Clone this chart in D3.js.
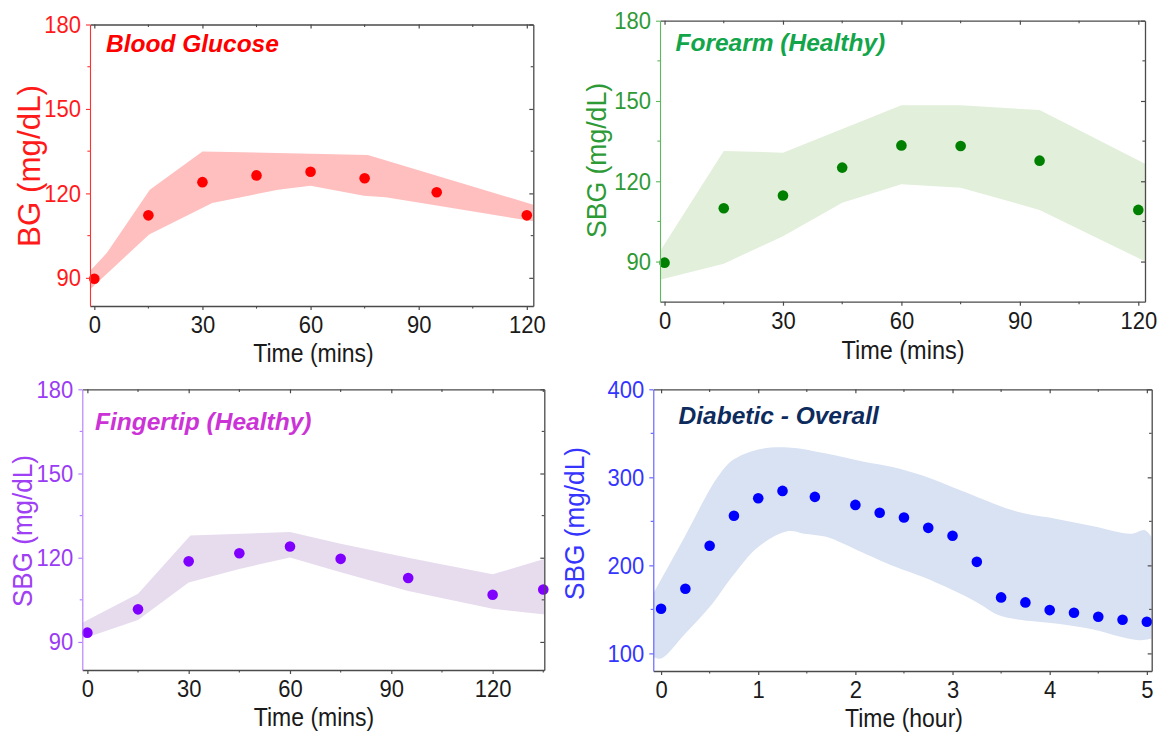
<!DOCTYPE html>
<html>
<head>
<meta charset="utf-8">
<script src="https://cdn.jsdelivr.net/npm/d3@7"></script>
<style>
  html, body { margin: 0; padding: 0; background: #fff; }
  svg { display: block; font-family: "Liberation Sans", Arial, sans-serif; }
</style>
</head>
<body>
<svg id="chart" width="1157" height="734"></svg>
<script>
// ---- Data ---------------------------------------------------------------
// Sampling times (minutes) for the healthy-subject panels
const minutes = [0, 15, 30, 45, 60, 75, 95, 120];
const fingertipMinutes = [0, 15, 30, 45, 60, 75, 95, 120, 135];
// Sampling times (hours) for the diabetic panel
const diabeticHours = [0, 0.25, 0.5, 0.75, 1, 1.25, 1.583, 2, 2.25, 2.5, 2.75, 3, 3.25, 3.5, 3.75, 4, 4.25, 4.5, 4.75, 5];

// Mean values (mg/dL)
const bloodGlucose = [89.7, 112.2, 124.0, 126.4, 127.7, 125.4, 120.4, 112.2];
const forearmSBG = [89.6, 109.9, 114.7, 125.1, 133.4, 133.2, 127.7, 109.3];
const fingertipSBG = [93.3, 101.6, 118.7, 121.6, 124.0, 119.6, 112.8, 106.8, 108.7];
const diabeticSBG = [150.7, 173.4, 222.2, 256.3, 276.3, 284.6, 277.8, 268.7, 259.7, 254.4, 242.6, 233.6, 204.0, 163.6, 157.9, 149.2, 146.2, 141.6, 138.2, 135.9];

// Spread bands: upper and lower edges with their own time stamps
const bgUpperTime = [-1.2, 3.5, 15.4, 30, 60, 75.9, 121.8];
const bgUpper = [92.4, 98.9, 121.3, 134.9, 134.1, 133.6, 116.0];
const bgLowerTime = [-1.2, 15.2, 32.7, 51, 60, 74.8, 80.8, 95, 121.8];
const bgLower = [85.9, 105.4, 116.6, 121.3, 122.7, 119.2, 118.6, 115.7, 110.1];

const forearmUpperTime = [-1.2, 15, 30, 60, 75, 95, 121.8];
const forearmUpper = [93.7, 131.3, 130.7, 148.4, 148.4, 146.6, 126.5];
const forearmLowerTime = [-1.2, 15, 30, 45, 60, 75, 95, 121.8];
const forearmLower = [83.2, 89.2, 99.5, 112.0, 118.9, 117.6, 109.3, 90.0];

const fingertipUpperTime = [-1.5, 15, 30.5, 60, 75, 95, 120, 135.5];
const fingertipUpper = [96.8, 107.2, 127.9, 129.2, 125.0, 120.0, 114.1, 119.6];
const fingertipLowerTime = [-1.5, 15, 30, 45, 60, 75, 95, 120, 135.5];
const fingertipLower = [91.0, 97.8, 111.2, 116.0, 120.1, 114.8, 108.1, 101.8, 99.8];

const diabeticUpperTime = [-0.08, 0.25, 0.5, 0.6, 0.73, 1.0, 1.31, 1.7, 2.1, 2.37, 2.69, 3.08, 3.67, 4.06, 4.45, 4.84, 4.98, 5.05];
const diabeticUpper = [168, 234, 286, 303, 319, 331.6, 333.8, 327, 317.5, 312, 302, 285.4, 260.8, 253, 244.5, 236, 240, 232];
const diabeticLowerTime = [-0.08, 0.0, 0.25, 0.53, 0.73, 1.0, 1.31, 1.47, 1.7, 2.02, 2.41, 2.69, 3.0, 3.27, 3.47, 3.67, 4.06, 4.45, 4.73, 4.92, 5.05];
const diabeticLower = [96, 94.3, 122.7, 156.8, 187, 221, 238.9, 236, 232.4, 217.3, 198.4, 187, 171.9, 156.8, 143.5, 138.6, 134, 127.2, 118.9, 115, 117];

// Tick values
const yTicksHealthy = [90, 120, 150, 180];
const yMinorHealthy = [105, 135, 165];
const yTicksDiabetic = [100, 200, 300, 400];
const yMinorDiabetic = [150, 250, 350];
const xTicksMinutes = [0, 30, 60, 90, 120];
const xMinorMinutes = [15, 45, 75, 105];
const xMinorFingertip = [15, 45, 75, 105, 135];
const xTicksHours = [0, 1, 2, 3, 4, 5];
const xMinorHours = [0.5, 1.5, 2.5, 3.5, 4.5];

// ---- Drawing ------------------------------------------------------------
const svg = d3.select("#chart");
const frameColor = "#4a4a4a";
const textStretch = "scale(1,1.1)";

function drawPanel(cfg) {
  const w = cfg.box.right - cfg.box.left;
  const h = cfg.box.bottom - cfg.box.top;
  const x = d3.scaleLinear().domain(cfg.xDomain).range([0, w]);
  const y = d3.scaleLinear().domain(cfg.yDomain).range([h, 0]);

  const g = svg.append("g").attr("transform", `translate(${cfg.box.left},${cfg.box.top})`);

  const clipId = "clip-" + cfg.id;
  g.append("clipPath").attr("id", clipId)
    .append("rect").attr("width", w).attr("height", h);

  // Shaded spread band
  const line = d3.line().x(d => x(d[0])).y(d => y(d[1])).curve(cfg.curve || d3.curveLinear);
  const upperPts = cfg.upperTime.map((t, i) => [t, cfg.upper[i]]);
  const lowerPts = cfg.lowerTime.map((t, i) => [t, cfg.lower[i]]).reverse();
  const bandPath = line(upperPts) + line(lowerPts).replace(/^M/, "L") + "Z";
  g.append("path")
    .attr("clip-path", `url(#${clipId})`)
    .attr("d", bandPath)
    .attr("fill", cfg.bandColor);

  // Mean points
  g.append("g").selectAll("circle")
    .data(cfg.times.map((t, i) => [t, cfg.values[i]]))
    .join("circle")
    .attr("cx", d => x(d[0]))
    .attr("cy", d => y(d[1]))
    .attr("r", 5.3)
    .attr("fill", cfg.dotColor);

  // Frame: top and right (inward ticks, no labels)
  const top = g.append("g").call(d3.axisTop(x).tickValues(cfg.xTicks).tickSize(-4).tickSizeOuter(0).tickFormat(""));
  const right = g.append("g").attr("transform", `translate(${w},0)`)
    .call(d3.axisRight(y).tickValues(cfg.yTicks).tickSize(-4).tickSizeOuter(0).tickFormat(""));
  [top, right].forEach(a => {
    a.select(".domain").attr("stroke", frameColor).attr("stroke-width", 1.3);
    a.selectAll(".tick line").attr("stroke", frameColor).attr("stroke-width", 1.2);
  });

  // Bottom axis
  const bottom = g.append("g").attr("transform", `translate(0,${h})`)
    .call(d3.axisBottom(x).tickValues(cfg.xTicks).tickSize(4).tickSizeOuter(0).tickPadding(5).tickFormat(d3.format("d")));
  bottom.select(".domain").attr("stroke", frameColor).attr("stroke-width", 1.3);
  bottom.selectAll(".tick line").attr("stroke", frameColor).attr("stroke-width", 1.2);
  bottom.selectAll(".tick text")
    .attr("fill", "#1a1a1a").attr("font-size", 22)
    .attr("font-family", "Liberation Sans, Arial, sans-serif")
    .attr("transform", textStretch);

  // Left axis, coloured
  const left = g.append("g")
    .call(d3.axisLeft(y).tickValues(cfg.yTicks).tickSize(4).tickSizeOuter(0).tickPadding(5).tickFormat(d3.format("d")));
  left.select(".domain").attr("stroke", cfg.axisColor).attr("stroke-width", 1.1);
  left.selectAll(".tick line").attr("stroke", cfg.axisColor).attr("stroke-width", 1.1);
  left.selectAll(".tick text")
    .attr("fill", cfg.labelColor).attr("font-size", 22)
    .attr("font-family", "Liberation Sans, Arial, sans-serif")
    .attr("transform", textStretch);

  // Minor ticks
  const minor = g.append("g");
  cfg.xMinor.forEach(v => {
    minor.append("line").attr("x1", x(v)).attr("x2", x(v)).attr("y1", h).attr("y2", h + 2.6)
      .attr("stroke", frameColor).attr("stroke-width", 1.1);
    minor.append("line").attr("x1", x(v)).attr("x2", x(v)).attr("y1", 0).attr("y2", 2.6)
      .attr("stroke", frameColor).attr("stroke-width", 1.1);
  });
  cfg.yMinor.forEach(v => {
    minor.append("line").attr("x1", 0).attr("x2", -2.6).attr("y1", y(v)).attr("y2", y(v))
      .attr("stroke", cfg.axisColor).attr("stroke-width", 1.1);
    minor.append("line").attr("x1", w).attr("x2", w - 2.6).attr("y1", y(v)).attr("y2", y(v))
      .attr("stroke", frameColor).attr("stroke-width", 1.1);
  });

  // Panel title
  svg.append("text")
    .attr("x", cfg.title.x).attr("y", cfg.title.y)
    .attr("font-size", 24.5).attr("font-weight", "bold").attr("font-style", "italic")
    .attr("fill", cfg.title.color)
    .text(cfg.title.text);

  // X axis title
  svg.append("text")
    .attr("transform", `translate(${cfg.xLabel.x},${cfg.xLabel.y}) ${textStretch}`)
    .attr("text-anchor", "middle")
    .attr("font-size", cfg.xLabel.size)
    .attr("fill", "#1a1a1a")
    .text(cfg.xLabel.text);

  // Y axis title
  svg.append("text")
    .attr("transform", `translate(${cfg.yLabel.x},${cfg.yLabel.y}) rotate(-90)`)
    .attr("text-anchor", "middle")
    .attr("font-size", cfg.yLabel.size)
    .attr("textLength", cfg.yLabel.length)
    .attr("lengthAdjust", "spacingAndGlyphs")
    .attr("fill", cfg.yLabel.color)
    .text(cfg.yLabel.text);
}

drawPanel({
  id: "bg",
  box: { left: 90, right: 533.3, top: 24.5, bottom: 306 },
  xDomain: [-1.2, 121.8], yDomain: [80, 180],
  xTicks: xTicksMinutes, xMinor: xMinorMinutes,
  yTicks: yTicksHealthy, yMinor: yMinorHealthy,
  times: minutes, values: bloodGlucose,
  upperTime: bgUpperTime, upper: bgUpper, lowerTime: bgLowerTime, lower: bgLower,
  bandColor: "#ffbfbf", dotColor: "#ff0000",
  axisColor: "#ff3030", labelColor: "#ff1a1a",
  title: { text: "Blood Glucose", x: 106, y: 52, color: "#ff0000" },
  xLabel: { text: "Time (mins)", x: 313.5, y: 362, size: 23 },
  yLabel: { text: "BG (mg/dL)", x: 40, y: 166, size: 32, length: 162, color: "#ff1a1a" }
});

drawPanel({
  id: "forearm",
  box: { left: 660, right: 1145, top: 20.7, bottom: 301.7 },
  xDomain: [-1.15, 121.7], yDomain: [75, 180],
  xTicks: xTicksMinutes, xMinor: xMinorMinutes,
  yTicks: yTicksHealthy, yMinor: yMinorHealthy,
  times: minutes, values: forearmSBG,
  upperTime: forearmUpperTime, upper: forearmUpper, lowerTime: forearmLowerTime, lower: forearmLower,
  bandColor: "#e2efda", dotColor: "#008000",
  axisColor: "#5cb85c", labelColor: "#2e9a35",
  title: { text: "Forearm (Healthy)", x: 675.5, y: 51, color: "#12a54a" },
  xLabel: { text: "Time (mins)", x: 903, y: 359, size: 23.5 },
  yLabel: { text: "SBG (mg/dL)", x: 606, y: 160.5, size: 27, length: 155, color: "#2e9a35" }
});

drawPanel({
  id: "fingertip",
  box: { left: 82.3, right: 544.3, top: 389.3, bottom: 670 },
  xDomain: [-1.5, 135.3], yDomain: [80, 180],
  xTicks: xTicksMinutes, xMinor: xMinorFingertip,
  yTicks: yTicksHealthy, yMinor: yMinorHealthy,
  times: fingertipMinutes, values: fingertipSBG,
  upperTime: fingertipUpperTime, upper: fingertipUpper, lowerTime: fingertipLowerTime, lower: fingertipLower,
  bandColor: "#e7dcee", dotColor: "#8000ff",
  axisColor: "#b27aff", labelColor: "#9a3cf5",
  title: { text: "Fingertip (Healthy)", x: 95, y: 429.5, color: "#cc33d6" },
  xLabel: { text: "Time (mins)", x: 314, y: 726, size: 23 },
  yLabel: { text: "SBG (mg/dL)", x: 31.6, y: 531, size: 27, length: 152, color: "#a040f5" }
});

drawPanel({
  id: "diabetic",
  box: { left: 653.3, right: 1151.7, top: 389.3, bottom: 671 },
  xDomain: [-0.08, 5.05], yDomain: [80, 400],
  xTicks: xTicksHours, xMinor: xMinorHours,
  yTicks: yTicksDiabetic, yMinor: yMinorDiabetic,
  times: diabeticHours, values: diabeticSBG,
  upperTime: diabeticUpperTime, upper: diabeticUpper, lowerTime: diabeticLowerTime, lower: diabeticLower,
  curve: d3.curveCatmullRom.alpha(0.5),
  bandColor: "#d9e2f3", dotColor: "#0000ff",
  axisColor: "#5a5aff", labelColor: "#3535ff",
  title: { text: "Diabetic - Overall", x: 678.6, y: 423.5, color: "#0d2b5c" },
  xLabel: { text: "Time (hour)", x: 904, y: 727, size: 23 },
  yLabel: { text: "SBG (mg/dL)", x: 583.7, y: 523.5, size: 27, length: 153, color: "#3535ff" }
});
</script>
</body>
</html>
